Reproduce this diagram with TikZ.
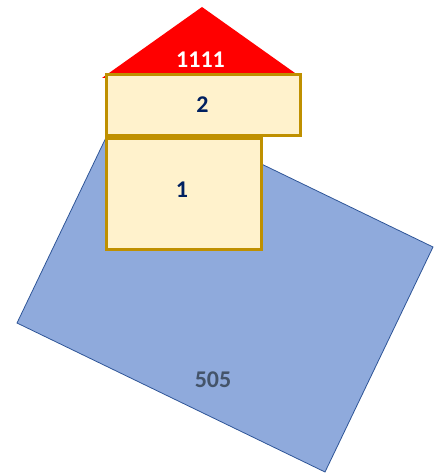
\documentclass[tikz,border=0pt]{standalone}
\usepackage{fontspec}
\setmainfont{Carlito}

\definecolor{boxfill}{HTML}{FFF2CC}
\definecolor{boxline}{HTML}{BF9000}
\definecolor{platefill}{HTML}{8FAADC}
\definecolor{plateline}{HTML}{2F5597}
\definecolor{numblue}{HTML}{002060}
\definecolor{numgray}{HTML}{44546A}

\begin{document}
\begin{tikzpicture}[x=1pt, y=-1pt]
\tikzset{ box/.style={draw=boxline, fill=boxfill, line width=3pt, inner sep=0pt, outer sep=0pt},
          num/.style={font=\fontsize{24}{28}\selectfont\bfseries, inner sep=0pt} }

\useasboundingbox (0,0) rectangle (446,473);

% tilted plate
\coordinate (PT) at (125,98);
\coordinate (PR) at (433,247);
\coordinate (PB) at (325,472);
\coordinate (PL) at (17,323);
\draw [plateline, fill=platefill, line width=0.8pt] (PT) -- (PR) -- (PB) -- (PL) -- cycle;
\node [num, numgray] (N505) at (213,380) {505};

% roof
\coordinate (RT) at (202,7);
\coordinate (RL) at (102,78);
\coordinate (RR) at (302,78);
\fill [red] (RT) -- (RR) -- (RL) -- cycle;
\node [num, white] (N1111) at (200.5,60) {1111};

% boxes
\node [box, minimum width=155pt, minimum height=111pt] (B1) at (184,194) {};
\node [box, minimum width=194pt, minimum height=61pt] (B2) at (203.5,105) {};
\node [num, numblue] (N1) at (182,190) {1};
\node [num, numblue] (N2) at (202.5,105) {2};

\end{tikzpicture}
\end{document}
